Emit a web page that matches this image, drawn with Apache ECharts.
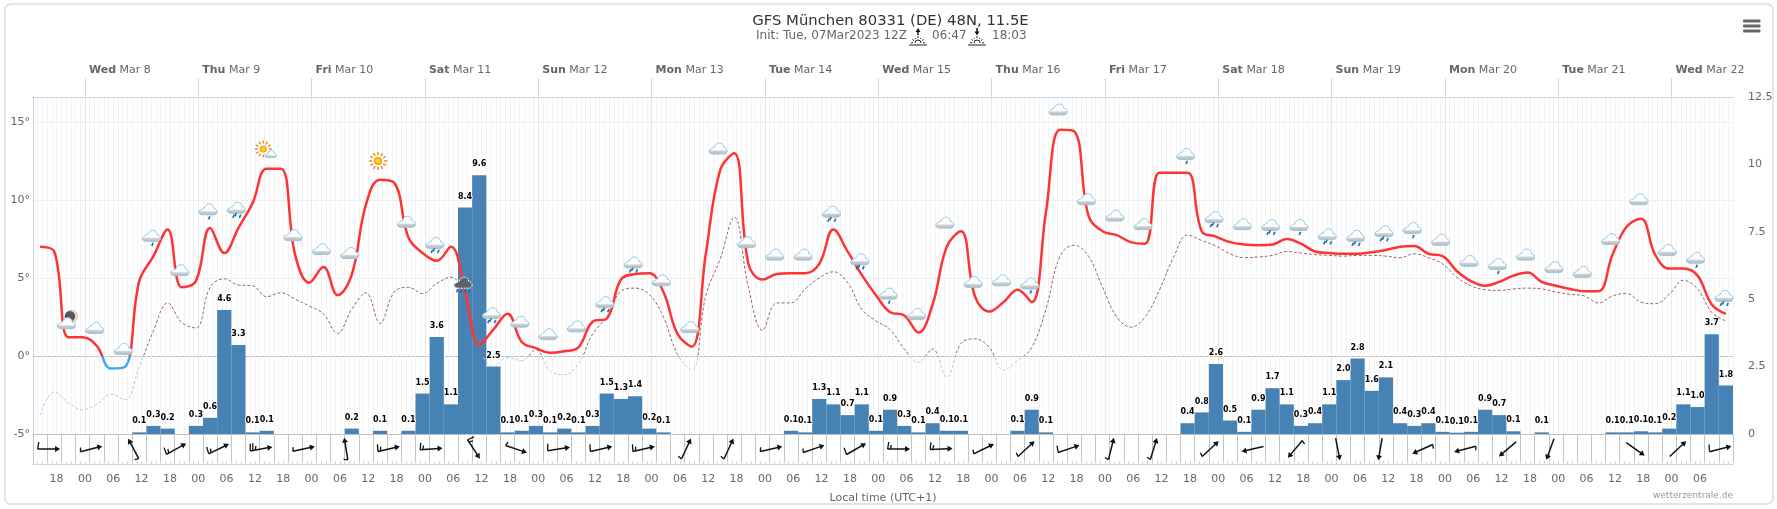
<!DOCTYPE html>
<html>
<head>
<meta charset="utf-8">
<script src="https://cdn.jsdelivr.net/npm/echarts@6/dist/echarts.min.js"></script>
<style>html,body{margin:0;padding:0;background:#fff}#c{width:1777px;height:509px}</style>
</head>
<body>
<div id="c"></div>
<script>
const periods = Array.from({length:120}, (_, i) => String(i));
const temperature = [
7.0,6.7,1.2,1.2,0.65,-0.8,-0.7,4.8,6.4,8.1,
4.4,4.8,8.2,6.6,8.2,9.8,12.0,12.0,6.5,4.7,
5.7,3.9,5.2,9.7,11.3,11.1,7.6,6.6,6.1,7.0,
4.1,0.7,1.7,2.7,0.9,0.5,0.2,0.3,0.55,2.2,
2.4,4.9,5.25,5.3,4.1,1.4,0.6,6.6,11.9,13.0,
5.9,4.9,5.25,5.3,5.3,5.9,8.1,6.7,5.2,3.9,
2.8,2.6,1.5,3.3,7.0,8.0,3.8,2.85,3.45,4.25,
3.45,9.2,14.5,14.4,9.0,8.0,7.75,7.3,7.2,11.75,
11.75,11.75,8.0,7.65,7.3,7.15,7.1,7.15,7.5,7.2,
6.7,6.6,6.55,6.55,6.65,6.8,7.0,7.05,6.55,6.4,
5.45,4.8,4.5,4.75,5.15,5.35,4.75,4.5,4.3,4.15,
4.15,6.5,8.3,8.8,6.5,5.6,5.6,5.15,3.3,2.7];
const dewPoint = [
-3.8,-2.3,-3.0,-3.45,-3.1,-2.45,-2.8,-0.7,1.6,3.4,
2.15,1.8,4.4,4.95,4.55,4.5,3.8,4.05,3.65,3.2,
2.7,1.45,3.0,4.05,2.1,4.1,4.4,4.0,4.65,5.05,
3.85,0.55,-0.7,-0.1,-0.3,0.4,-0.95,-1.2,-0.5,1.4,
2.5,4.15,4.35,3.95,2.5,0.1,-0.9,3.9,6.2,8.9,
4.4,1.65,3.4,3.4,4.3,5.0,5.4,4.7,3.0,2.25,
1.7,0.45,-0.4,0.45,-1.35,0.8,1.1,0.55,-0.9,-0.3,
0.55,3.0,6.4,7.1,6.4,4.4,2.5,1.85,2.5,4.2,
6.3,7.75,7.4,7.05,6.55,6.3,6.35,6.45,6.7,6.6,
6.5,6.45,6.4,6.45,6.45,6.4,6.3,6.55,6.3,5.9,
5.05,4.5,4.25,4.2,4.3,4.35,4.3,4.1,3.95,3.85,
3.4,3.85,4.0,3.45,3.35,3.95,4.85,4.3,2.8,2.25];
const precipitation = [
0,0,0,0,0,0,0,0.06,0.3,0.2,
0,0.3,0.6,4.6,3.3,0.06,0.12,0,0,0,
0,0,0.2,0,0.12,0,0.12,1.5,3.6,1.1,
8.4,9.6,2.5,0.06,0.12,0.3,0.06,0.2,0.06,0.3,
1.5,1.3,1.4,0.2,0.06,0,0,0,0,0,
0,0,0,0.12,0.06,1.3,1.1,0.7,1.1,0.12,
0.9,0.3,0.06,0.4,0.12,0.12,0,0,0,0.12,
0.9,0.06,0,0,0,0,0,0,0,0,
0,0.4,0.8,2.6,0.5,0.08,0.9,1.7,1.1,0.3,
0.4,1.1,2.0,2.8,1.6,2.1,0.4,0.3,0.4,0.08,
0.05,0.08,0.9,0.7,0.1,0,0.06,0,0,0,
0,0.06,0.06,0.1,0.06,0.2,1.1,1.0,3.7,1.8];
const iconPeriod = [2,4,6,8,10,12,14,16,18,20,22,24,26,28,30,32,34,36,38,40,42,44,46,48,50,52,54,56,58,60,62,64,66,68,70,72,74,76,78,81,83,85,87,89,91,93,95,97,99,101,103,105,107,109,111,113,115,117,119];
const iconLevel = [2.1,1.8,0.45,7.7,5.5,9.4,9.5,13.2,7.75,6.85,6.6,12.5,8.6,7.25,4.7,2.75,2.2,1.4,1.9,3.45,6.0,4.85,1.85,13.3,7.3,6.5,6.5,9.25,6.2,4.0,2.7,8.55,4.75,4.85,4.65,15.8,10.05,9.0,8.45,12.95,8.9,8.45,8.4,8.4,7.8,7.7,8.0,8.2,7.45,6.1,5.9,6.5,5.7,5.4,7.5,10.05,6.8,6.3,3.85];
// 0 cloud, 1 cloud+drop, 2 cloud+drops, 3 sun, 4 sun+cloud, 5 moon+cloud, 6 storm
const iconKind = [5,0,0,1,0,1,2,4,0,0,0,3,0,2,6,2,0,0,0,2,2,0,0,0,0,0,0,2,2,1,0,0,0,0,1,0,0,0,0,1,2,0,2,1,2,2,2,1,0,0,1,0,0,0,0,0,0,1,2];
const windHour = [3.3,12.3,21.3,30.3,39.3,48.3,57.3,66.3,75.3,84.3,93.3,102.3,111.3,120.3,129.3,138.3,147.3,156.3,165.3,174.3,183.3,192.3,201.3,210.3,219.3,228.3,237.3,249.3,258.3,267.3,276.3,285.3,294.3,303.3,312.3,321.3,339.3,348.3,357.3];
const windHeading = [90,76,332,61,64,80,78,351,77,86,147,109,81,77,77,25,25,77,71,60,90,88,64,47,71,14,17,47,257,220,169,190,246,255,230,200,125,47,76];
const windBarbs = [2,1,1,3,3,5,1,1,3,3,3,1,2,2,3,1,1,1,1,2,3,3,1,1,2,1,1,1,0,1,0,0,1,1,0,0,0,0,2];
const dayHours = [11,35,59,83,107,131,155,179,203,227,251,275,299,323,347];
const dayNames = ['Wed','Thu','Fri','Sat','Sun','Mon','Tue','Wed','Thu','Fri','Sat','Sun','Mon','Tue','Wed'];
const dayDates = ['Mar 8','Mar 9','Mar 10','Mar 11','Mar 12','Mar 13','Mar 14','Mar 15','Mar 16','Mar 17','Mar 18','Mar 19','Mar 20','Mar 21','Mar 22'];
const sixHourly = [5,11,17,23,29,35,41,47,53,59,65,71,77,83,89,95,101,107,113,119,125,131,137,143,149,155,161,167,173,179,185,191,197,203,209,215,221,227,233,239,245,251,257,263,269,275,281,287,293,299,305,311,317,323,329,335,341,347,353];
const sixHourLabels = ['18','00','06','12'];
const hourly = Array.from({length:361}, (_, i) => i);

const FONT = 'DejaVu Sans';
const CLOUD = 'M3.5 11.5C1 11.5 0 10 0 8.7C0 7.2 1.2 6.2 2.8 6.2C3 5.2 4 4.6 5 4.8C6 2 8 .5 10.3 .5C13 .5 14.6 2.5 14.8 5C16.8 5 18 6.8 18 8.5C18 10.2 16.8 11.5 15 11.5Z';

function cloud(x, y, w, h, dark) {
  return {type:'path', shape:{pathData:CLOUD, x:x-w/2, y:y-h/2, width:w, height:h}, style:{
    fill: dark ? '#5f6368' : new echarts.graphic.LinearGradient(0,0,0,1,[{offset:0,color:'#ffffff'},{offset:.62,color:'#fbfcfd'},{offset:.72,color:'#cfcfcf'},{offset:1,color:'#b5b5b5'}]),
    stroke: dark ? '#ffffff' : '#8fcbe8', lineWidth:1, lineDash: dark ? [2,1] : null}};
}
function drop(x, y) {
  return {type:'line', shape:{x1:x+.8, y1:y-1.6, x2:x-.6, y2:y+1.6}, style:{stroke:'#1e6ea6', lineWidth:1.6}};
}
function sun(x, y, r) {
  const kids = [];
  for (let i = 0; i < 12; i++) {
    const a = i * Math.PI / 6;
    kids.push({type:'line', shape:{x1:x+Math.cos(a)*(r+2), y1:y+Math.sin(a)*(r+2), x2:x+Math.cos(a)*(r+5), y2:y+Math.sin(a)*(r+5)}, style:{stroke:'#f58a1f', lineWidth:1.5}});
  }
  kids.push({type:'circle', shape:{cx:x, cy:y, r:r}, style:{fill:new echarts.graphic.RadialGradient(.5,.5,.5,[{offset:0,color:'#ffee00'},{offset:.6,color:'#ffc000'},{offset:1,color:'#f58a1f'}])}});
  return kids;
}
function renderIcon(params, api) {
  const p = api.coord([api.value(0), api.value(1)]);
  const kind = api.value(2);
  let kids = [];
  if (kind === 3) kids = sun(0, 0, 4);
  else if (kind === 4) { kids = sun(-1.5, -1, 3.5); kids.push(cloud(6, 4, 12, 7)); }
  else if (kind === 5) {
    kids.push({type:'circle', shape:{cx:5, cy:-7, r:6}, style:{fill:'#f3e9b8', stroke:'#888', lineWidth:.5}});
    kids.push({type:'circle', shape:{cx:3.5, cy:-7, r:5.3}, style:{fill:'#55585c'}});
    kids.push(cloud(0, 0, 18, 11));
  } else if (kind === 6) {
    kids.push(cloud(0, 0, 18, 12, true));
    kids.push(drop(-6,8), drop(-2,9), drop(2,8), drop(6,9));
  } else {
    kids.push(cloud(0, 0, 18, 12));
    if (kind === 1) kids.push(drop(1, 8.5));
    if (kind === 2) kids.push(drop(-3, 8.5), drop(3.5, 8.5), drop(-1, 7));
  }
  return {type:'group', x:p[0]-2, y:p[1], children:kids};
}
function renderWind(params, api) {
  const p = api.coord([api.value(0), .5]);
  const barbs = api.value(2);
  const kids = [
    {type:'line', shape:{x1:0, y1:11, x2:0, y2:-8}, style:{stroke:'#111', lineWidth:1.5}},
    {type:'polygon', shape:{points:[[0,-11.5],[3,-6.5],[-3,-6.5]]}, style:{fill:'#111'}}
  ];
  let y = 11, left = barbs;
  while (left > 0) {
    const len = left >= 2 ? 7 : 4;
    kids.push({type:'line', shape:{x1:0, y1:y, x2:-len, y2:y-1.2}, style:{stroke:'#111', lineWidth:1.3}});
    left -= 2; y -= 2.6;
  }
  return {type:'group', x:p[0], y:p[1], rotation:-api.value(1)*Math.PI/180, children:kids};
}
function labelText(v) { return v.toFixed(1); }
function sunMark(cx, rising) {
  const kids = [
    {type:'line', shape:{x1:cx-9, y1:45, x2:cx+9, y2:45}, style:{stroke:'#222', lineWidth:1}},
    {type:'arc', shape:{cx:cx, cy:43, r:3, startAngle:Math.PI, endAngle:0}, style:{stroke:'#222', lineWidth:1, fill:null}}
  ];
  [[-7,43,-5,42.5],[5,42.5,7,43],[-5.5,39.5,-4,40.5],[4,40.5,5.5,39.5],[0,36,0,38],[-3,38,-2.3,39],[3,38,2.3,39]].forEach(s => kids.push({type:'line', shape:{x1:cx+s[0], y1:s[1], x2:cx+s[2], y2:s[3]}, style:{stroke:'#222', lineWidth:1}}));
  if (rising) {
    kids.push({type:'line', shape:{x1:cx, y1:35, x2:cx, y2:31}, style:{stroke:'#111', lineWidth:1.5}});
    kids.push({type:'polygon', shape:{points:[[cx,28],[cx+2.5,32],[cx-2.5,32]]}, style:{fill:'#111'}});
  } else {
    kids.push({type:'line', shape:{x1:cx, y1:28, x2:cx, y2:32}, style:{stroke:'#111', lineWidth:1.5}});
    kids.push({type:'polygon', shape:{points:[[cx,35.5],[cx+2.5,31.5],[cx-2.5,31.5]]}, style:{fill:'#111'}});
  }
  return {type:'group', silent:true, children:kids};
}
function txt(x, y, text, size, fill, align) {
  return {type:'text', x:x, y:y, silent:true, style:{text:text, fontFamily:FONT, fontSize:size, fill:fill, align:align||'left', verticalAlign:'middle'}};
}

const option = {
  animation:false,
  backgroundColor:'#ffffff',
  textStyle:{fontFamily:FONT},
  grid:[
    {left:33, right:44, top:97, height:337},
    {left:33, right:44, top:434, height:30}
  ],
  xAxis:[
    {type:'category', gridIndex:0, data:periods, boundaryGap:true, axisLine:{show:false}, axisTick:{show:false}, axisLabel:{show:false}, splitLine:{show:false}},
    {type:'value', gridIndex:0, min:0, max:360, interval:1, axisLine:{show:false}, axisTick:{show:false}, axisLabel:{show:false}, splitLine:{show:true, lineStyle:{color:'#f3f3f3', width:1}}},
    {type:'value', gridIndex:0, position:'top', min:0, max:360,
      axisLine:{show:true, onZero:false, lineStyle:{color:'#ccd6eb'}},
      axisTick:{show:true, customValues:dayHours, length:19, lineStyle:{color:'#ccd6eb'}},
      splitLine:{show:true, lineStyle:{color:'#e6e6e6'}},
      axisLabel:{show:true, customValues:dayHours, margin:21, align:'left', padding:[0,0,0,4], color:'#666', fontSize:11, hideOverlap:false,
        formatter:(v)=>{const i=dayHours.indexOf(v);return '{b|'+dayNames[i]+'} '+dayDates[i];},
        rich:{b:{fontWeight:'bold', color:'#666', fontSize:11, fontFamily:FONT}}}},
    {type:'value', gridIndex:1, min:0, max:360, interval:3, axisLine:{show:false}, axisTick:{show:false}, axisLabel:{show:false}, splitLine:{show:true, lineStyle:{color:'#c4c4c4', width:1}}},
    {type:'value', gridIndex:1, position:'bottom', min:0, max:360,
      axisLine:{show:true, onZero:false, lineStyle:{color:'#ccd6eb'}},
      axisTick:{show:true, inside:true, customValues:hourly, length:3, lineStyle:{color:'#ccd6eb'}},
      axisLabel:{show:true, customValues:sixHourly, margin:10, color:'#666', fontSize:11, hideOverlap:false,
        formatter:(v)=>sixHourLabels[sixHourly.indexOf(v)%4]}, splitLine:{show:false}}
  ],
  yAxis:[
    {type:'value', gridIndex:0, min:-5, max:16.6, position:'left',
      axisLine:{show:true, lineStyle:{color:'#cccccc'}},
      axisTick:{show:false, customValues:[-5,0,5,10,15]},
      axisLabel:{customValues:[-5,0,5,10,15], margin:3, color:'#666', fontSize:11, formatter:(v)=>v+'°'},
      splitLine:{show:true, lineStyle:{color:'#eeeeee'}}},
    {type:'value', gridIndex:0, min:0, max:12.5, interval:2.5, position:'right',
      axisLine:{show:true, lineStyle:{color:'#ccd6eb'}}, axisTick:{show:false},
      axisLabel:{margin:15, color:'#666', fontSize:11, formatter:(v)=>String(v)}, splitLine:{show:false}},
    {type:'value', gridIndex:1, min:0, max:1, show:false},
    {type:'value', gridIndex:0, min:-5, max:16.6, position:'left',
      axisLine:{show:false}, axisTick:{show:false, customValues:[-5,0]}, axisLabel:{show:false},
      splitLine:{show:true, lineStyle:{color:'#c0c0c0'}}},
    {type:'value', gridIndex:1, min:0, max:1, show:true, position:'left',
      axisLine:{show:true, lineStyle:{color:'#c4c4c4'}}, axisTick:{show:false}, axisLabel:{show:false}, splitLine:{show:false}}
  ],
  visualMap:[
    {show:false, type:'piecewise', seriesIndex:1, dimension:1, pieces:[{gte:-50,lte:0,color:'#42a5f0'},{gt:0,lte:50,color:'#ff3333'}]},
    {show:false, type:'piecewise', seriesIndex:2, dimension:1, pieces:[{gte:-50,lte:0,color:'#a9c8e8'},{gt:0,lte:50,color:'#a0606a'}]}
  ],
  series:[
    {type:'bar', name:'Precipitation', xAxisIndex:0, yAxisIndex:1, data:precipitation, barWidth:'100%', barCategoryGap:0, z:2,
      itemStyle:{color:'#4682b4'},
      label:{show:true, position:'top', distance:7, fontFamily:FONT, fontSize:8, fontWeight:'bold', color:'#000', textBorderColor:'#fff', textBorderWidth:1.5,
        formatter:(p)=> p.value>0 ? labelText(p.value) : ''}},
    {type:'line', name:'Temperature', xAxisIndex:0, yAxisIndex:0, data:temperature, smooth:.4, symbol:'none', z:4, lineStyle:{width:2.5}},
    {type:'line', name:'Dew point', xAxisIndex:0, yAxisIndex:0, data:dewPoint, smooth:.4, symbol:'none', z:3, lineStyle:{width:1, type:[3,2]}},
    {type:'custom', name:'Weather', xAxisIndex:0, yAxisIndex:0, z:6, clip:false, renderItem:renderIcon, encode:{x:0,y:1},
      data:iconPeriod.map((k,i)=>[k, iconLevel[i], iconKind[i]])},
    {type:'custom', name:'Wind', xAxisIndex:3, yAxisIndex:2, z:6, clip:false, renderItem:renderWind, encode:{x:0},
      data:windHour.map((h,i)=>[h, windHeading[i], windBarbs[i]])}
  ],
  graphic:[
    {type:'rect', silent:true, z:-1, shape:{x:5,y:4,width:1768,height:500,r:6}, style:{fill:'none', stroke:'#dcdcdc', lineWidth:1.5}},
    txt(890.5, 21, 'GFS München 80331 (DE) 48N, 11.5E', 14.8, '#333', 'center'),
    txt(756, 36, 'Init: Tue, 07Mar2023 12Z', 12, '#666'),
    sunMark(918, true),
    txt(932, 36, '06:47', 12, '#666'),
    sunMark(977, false),
    txt(992, 36, '18:03', 12, '#666'),
    {type:'rect', silent:true, shape:{x:1743,y:19.5,width:17.5,height:3,r:1}, style:{fill:'#666'}},
    {type:'rect', silent:true, shape:{x:1743,y:24.5,width:17.5,height:3,r:1}, style:{fill:'#666'}},
    {type:'rect', silent:true, shape:{x:1743,y:29.5,width:17.5,height:3,r:1}, style:{fill:'#666'}},
    txt(883, 498.5, 'Local time (UTC+1)', 11, '#666', 'center'),
    txt(1733, 495.5, 'wetterzentrale.de', 9, '#999', 'right')
  ]
};
const chart = echarts.init(document.getElementById('c'), null, {renderer:'canvas', width:1777, height:509});
chart.setOption(option);
</script>
</body>
</html>
